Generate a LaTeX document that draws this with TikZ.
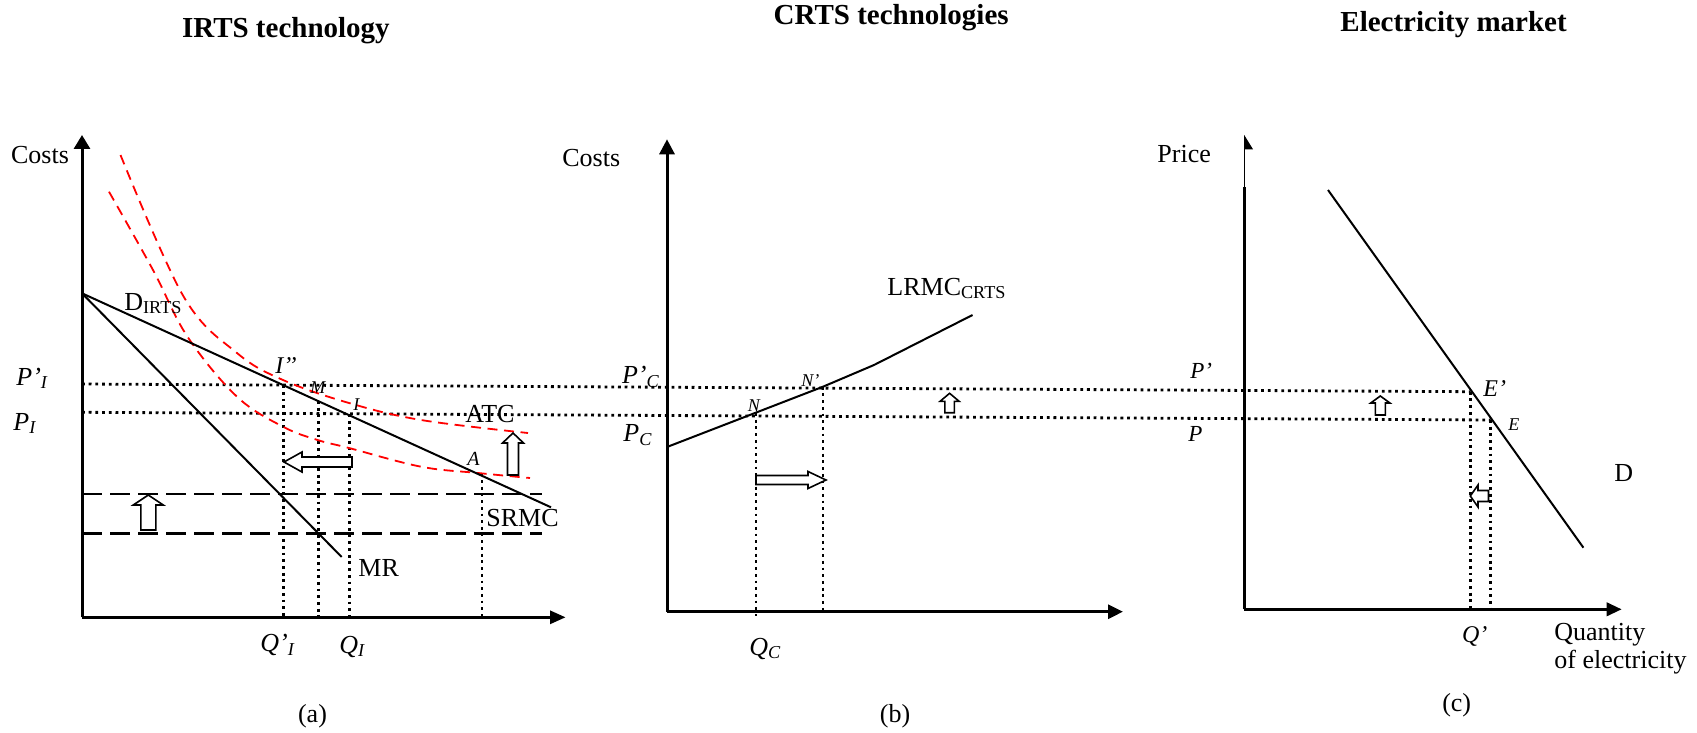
\documentclass[tikz,border=0pt]{standalone}
\usepackage{fontspec}
\setmainfont{Liberation Serif}
\usetikzlibrary{arrows.meta}
\tikzset{
  lab/.style={anchor=base west, inner sep=0pt, font=\fontsize{13pt}{15pt}\selectfont},
  ilab/.style={anchor=base west, inner sep=0pt, font=\fontsize{13pt}{15pt}\selectfont\itshape},
  mlab/.style={anchor=base west, inner sep=0pt, font=\fontsize{11.5pt}{13pt}\selectfont\itshape},
  slab/.style={anchor=base west, inner sep=0pt, font=\fontsize{9pt}{11pt}\selectfont\itshape},
  ttl/.style={anchor=base west, inner sep=0pt, font=\fontsize{14.5pt}{17pt}\selectfont\bfseries},
  panelcap/.style={anchor=center, inner sep=0pt, font=\fontsize{13pt}{15pt}\selectfont},
  axis/.style={line width=1.5pt},
  curve/.style={line width=1pt},
  guide/.style={line width=1.4pt, dash pattern=on 1.4pt off 1.95pt},
  reddash/.style={red, line width=0.9pt, dash pattern=on 5pt off 3.3pt},
  blackdash/.style={line width=1.3pt, dash pattern=on 10pt off 4pt},
  hollowarr/.style={draw, fill=white, line width=0.8pt, line join=miter},
  pics/harrow/.style n args={4}{code={
    \path[hollowarr] (0,-#2) -- (#1-#4,-#2) -- (#1-#4,-#3) -- (#1,0) -- (#1-#4,#3) -- (#1-#4,#2) -- (0,#2) -- cycle;}},
}
\begin{document}
\begin{tikzpicture}[x=0.5pt,y=-0.5pt]
\useasboundingbox (0,0) rectangle (1697,733);

% ---------- titles
\node[ttl] (t1) at (181.7,37.3) {IRTS technology};
\node[ttl] (t2) at (773.3,25) {CRTS technologies};
\node[ttl] (t3) at (1340,31.7) {Electricity market};

% ---------- coordinates
\coordinate (aO) at (82,617.3);
\coordinate (aY) at (82,135);
\coordinate (aX) at (565.6,617.3);
\coordinate (aD0) at (82,293.3);
\coordinate (aD1) at (551,507.3);
\coordinate (aMR) at (341.7,557);
\coordinate (bO) at (667,611.7);
\coordinate (bY) at (667,139.3);
\coordinate (bX) at (1123,611.7);
\coordinate (cO) at (1244.2,609.3);
\coordinate (cYthick) at (1244.2,186.7);
\coordinate (cYtop) at (1244.2,149.3);
\coordinate (cX) at (1621.7,609.3);
\coordinate (cD0) at (1328,190);
\coordinate (cD1) at (1583.4,547.7);
\coordinate (Pp0) at (82,384);
\coordinate (Ep) at (1470.7,391.7);
\coordinate (P0) at (82,412.3);
\coordinate (E) at (1490.7,420);

% ---------- dotted price lines across all panels
\draw[guide] (Pp0) -- (Ep);
\draw[guide] (P0) -- (E);

% ---------- panel (a)
\draw[guide] (283.3,385.1) -- (283.3,617.3);
\draw[guide] (318.3,401) -- (318.3,617.3);
\draw[guide] (349.3,414) -- (349.3,617.3);
\draw[guide] (482,473.3) -- (482,617.3);
\draw[blackdash] (82,494) -- (541.5,494);
\draw[blackdash] (82,533.3) -- (541.5,533.3);
\draw[reddash] plot[smooth, tension=0.6] coordinates {(120.5,155) (183.7,296.7) (237,353) (283,380) (349,403) (421,420) (528,433)};
\draw[reddash] plot[smooth, tension=0.6] coordinates {(109,191.7) (153,270) (187.5,336.7) (237,396.7) (283,426.7) (317.6,440) (349,448) (421,466.7) (478,473) (530,478)};
\draw[curve] (aD0) -- (aD1);
\draw[curve] (aD0) -- (aMR);
\draw[axis, -{Triangle[length=7pt,width=8pt]}] (aO) -- (aY);
\draw[axis, -{Triangle[length=7.8pt,width=6.5pt]}] (aO) -- (aX);
\pic[rotate=180] at (352,462) {harrow={68}{5}{10}{18}};
\pic[rotate=90] at (513,475) {harrow={42}{5.5}{10.5}{10}};
\pic[rotate=90] at (148.3,530) {harrow={35}{7.5}{15}{10}};

\node[lab] (acost) at (10.7,163) {Costs};
\node[lab] (adirts) at (124,310) {D\textsubscript{IRTS}};
\node[ilab] (apip) at (16,385) {P’\textsubscript{I}};
\node[ilab] (api) at (13,430) {P\textsubscript{I}};
\node[mlab, font=\fontsize{12pt}{14pt}\selectfont\itshape] (aipp) at (275,373) {I’’};
\node[slab] (am) at (310,393) {M};
\node[slab] (ai) at (353,410) {I};
\node[lab] (aatc) at (465,422) {ATC};
\node[mlab, font=\fontsize{10pt}{12pt}\selectfont\itshape] (aa) at (467,465) {A};
\node[lab] (asrmc) at (486,526.7) {SRMC};
\node[lab] (amr) at (358,576.7) {MR};
\node[ilab] (aqip) at (260,651.7) {Q’\textsubscript{I}};
\node[ilab] (aqi) at (339,653) {Q\textsubscript{I}};
\node[panelcap] (acap) at (312.5,716) {(a)};

% ---------- panel (b)
\draw[guide] (756,413) -- (756,616);
\draw[guide] (823,386.7) -- (823,611.7);
\draw[curve] (667,447) -- (823,386.7) -- (874,365) -- (972.5,315);
\draw[axis, -{Triangle[length=7.5pt,width=7.5pt]}] (bO) -- (bY);
\draw[axis, -{Triangle[length=7.5pt,width=7pt]}] (bO) -- (bX);
\pic at (756,480) {harrow={70}{4.5}{8.5}{18}};
\pic[rotate=90] at (949.6,412.7) {harrow={19.4}{4.75}{9.5}{8}};

\node[lab] (bcost) at (562,166.7) {Costs};
\node[lab] (blrmc) at (887,295) {LRMC\textsubscript{CRTS}};
\node[ilab] (bpcp) at (621.7,383.3) {P’\textsubscript{C}};
\node[ilab] (bpc) at (623,441.7) {P\textsubscript{C}};
\node[slab] (bn) at (747.5,411.7) {N};
\node[slab] (bnp) at (801,386.7) {N’};
\node[ilab] (bqc) at (749,655) {Q\textsubscript{C}};
\node[panelcap] (bcap) at (895,716.7) {(b)};

% ---------- panel (c)
\draw[guide] (Ep) -- (1470.7,609.3);
\draw[guide] (E) -- (1490.7,609.3);
\draw[curve] (cD0) -- (cD1);
\draw[axis] (cO) -- (cYthick);
\draw[line width=0.5pt] (cYthick) -- (1244.2,137);
\fill (1244.2,135) -- (1253,149.3) -- (cYtop) -- cycle;
\draw[axis, -{Triangle[length=7.6pt,width=6.7pt]}] (cO) -- (cX);
\pic[rotate=90] at (1380.3,415) {harrow={19}{5}{9.6}{7}};
\pic[rotate=180] at (1488.5,496) {harrow={18.2}{5.5}{11}{7.7}};

\node[lab] (cprice) at (1157,162.7) {Price};
\node[mlab] (cpp) at (1190,378) {P’};
\node[mlab] (cp) at (1188,441.7) {P};
\node[mlab, font=\fontsize{12pt}{14pt}\selectfont\itshape] (cep) at (1483,396.7) {E’};
\node[slab] (ce) at (1508,430.7) {E};
\node[lab] (cd) at (1614,481.7) {D};
\node[mlab, font=\fontsize{12pt}{14pt}\selectfont\itshape] (cqp) at (1461.6,642.7) {Q’};
\node[lab] (cq1) at (1554,640) {Quantity};
\node[lab] (cq2) at (1554,668.3) {of electricity};
\node[panelcap] (ccap) at (1456.7,705) {(c)};
\end{tikzpicture}
\end{document}
